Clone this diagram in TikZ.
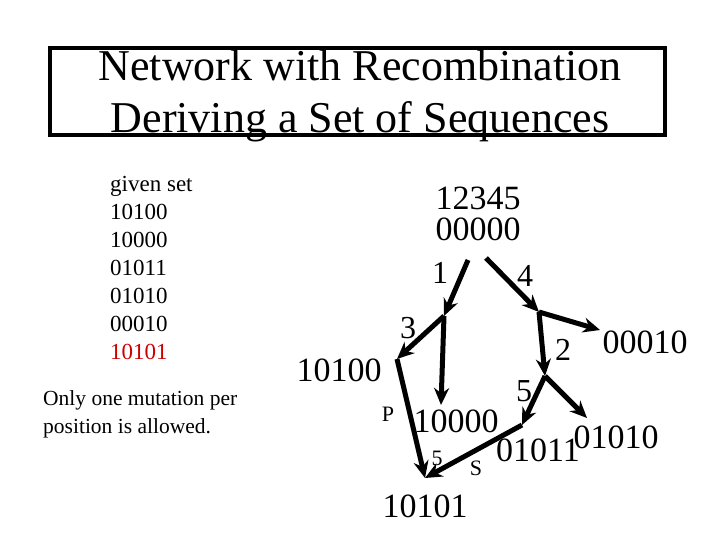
\documentclass[tikz,border=0pt]{standalone}
\usepackage{fontspec}
\setmainfont{Liberation Serif}
\usetikzlibrary{arrows.meta}
\begin{document}
\begin{tikzpicture}[x=1pt,y=-1pt,
  edge/.style={line width=5pt,-{Stealth[length=17pt,width=15pt]}},
  big/.style={font=\fontsize{34}{36}\selectfont,inner sep=0},
  lab/.style={font=\fontsize{32}{34}\selectfont,inner sep=0},
  sm/.style={font=\fontsize{22}{24}\selectfont,inner sep=0},
  txt/.style={font=\fontsize{23}{28}\selectfont,inner sep=0,align=left,anchor=north west}]
\useasboundingbox (0,0) rectangle (720,540);
\draw[line width=4pt] (50,48) rectangle (665,135);
\node[font=\fontsize{44}{52}\selectfont,align=center,inner sep=0] (title) at (360,96) {Network with Recombination\\Deriving a Set of Sequences};
\node[txt] (given) at (110,176) {given set\\10100\\10000\\01011\\01010\\00010\\\textcolor[rgb]{0.8,0,0}{10101}};
\node[txt,font=\fontsize{21.5}{28}\selectfont] (note) at (43,390) {Only one mutation per\\position is allowed.};
\node[big] (t1) at (478,198) {12345};
\node[big] (t2) at (478,229) {00000};
\coordinate (r1) at (468,260);
\coordinate (r4) at (486,258);
\coordinate (A) at (444,316);
\coordinate (B) at (539,312);
\coordinate (C) at (545,376);
\coordinate (D) at (522,425);
\coordinate (E) at (397,359);
\coordinate (F) at (425,478);
\coordinate (G) at (441,405);
\coordinate (H) at (600,330);
\coordinate (I) at (587,418);
\draw[edge] (r1) -- (A);
\draw[edge] (r4) -- (B);
\draw[edge] (A) -- (E);
\draw[edge] (A) -- (G);
\draw[edge] (B) -- (H);
\draw[edge] (B) -- (C);
\draw[edge] (C) -- (D);
\draw[edge] (C) -- (I);
\draw[edge] (D) -- (F);
\draw[edge] (E) -- (F);
\node[lab] (l1) at (440,273) {1};
\node[lab] (l4) at (525,276) {4};
\node[lab] (l3) at (408,328) {3};
\node[lab] (l2) at (563,350) {2};
\node[lab] (l5) at (524,391) {5};
\node[sm] (p) at (388,414) {P};
\node[sm] (l5b) at (437,458) {5};
\node[sm] (s) at (476,468) {S};
\node[big] (n10100) at (339,370) {10100};
\node[big] (n10000) at (456,421) {10000};
\node[big] (n00010) at (645,342) {00010};
\node[big] (n01011) at (538,450) {01011};
\node[big] (n01010) at (616,437) {01010};
\node[big] (n10101) at (425,506) {10101};
\end{tikzpicture}
\end{document}
